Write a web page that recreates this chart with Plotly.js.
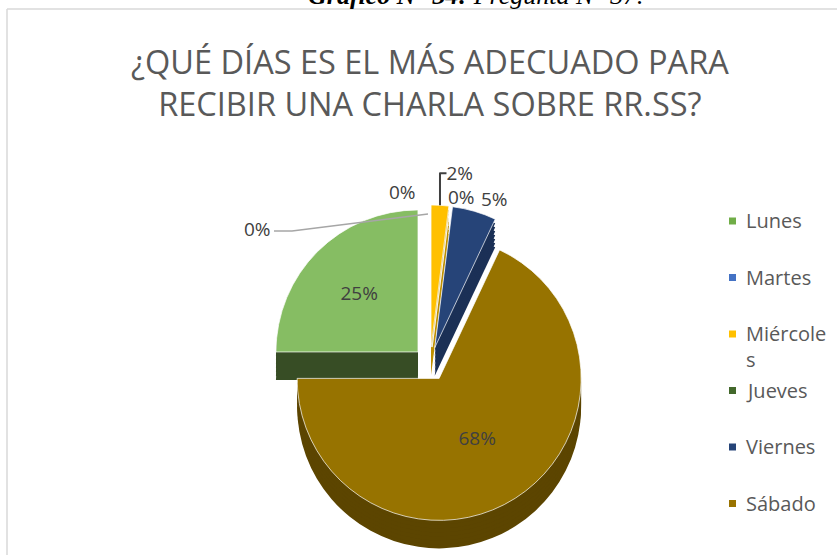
<!DOCTYPE html>
<html>
<head>
<meta charset="utf-8">
<script src="https://cdn.plot.ly/plotly-3.0.1.min.js"></script>
<style>html,body{margin:0;padding:0;background:#fff;}#chart{width:838px;height:555px;}</style>
</head>
<body>
<div id="chart"></div>
<script>
// ---- data ----
const categories = ["Lunes", "Martes", "Miércoles", "Jueves", "Viernes", "Sábado"];
const legendLabels = ["Lunes", "Martes", "Miércole<br>s", "Jueves", "Viernes", "Sábado"];
const percentages = [25, 0, 2, 0, 5, 68];
const zeroLabels = ["0%", "0%", "0%"];

// ---- styles ----
const topColors = ["#86BD63", "#4472C4", "#FFC000", "#43682B", "#264478", "#977300"];
const sideColors = ["#374D25", "#2F5597", "#BF9000", "#2B4619", "#1B3056", "#5C4500"];
const legendColors = ["#70AD47", "#4472C4", "#FFC000", "#43682B", "#264478", "#997300"];
const W = 838, H = 555;
const pullAmt = 0.12, R = 142;
const cx = 430, cy = 364, size = 2 * R * (1 + pullAmt);
const depth = 28, step = 4;

function domainFor(offsetPx) {
  return {
    x: [(cx - size / 2) / W, (cx + size / 2) / W],
    y: [1 - (cy + size / 2 + offsetPx) / H, 1 - (cy - size / 2 + offsetPx) / H]
  };
}

const traces = [];
for (let off = depth; off >= step; off -= step) {
  traces.push({
    type: "pie", values: percentages, labels: categories, sort: false,
    direction: "clockwise", rotation: -90, pull: pullAmt,
    domain: domainFor(off), marker: {colors: sideColors, line: {width: 0}},
    textinfo: "none", hoverinfo: "skip", showlegend: false
  });
}
traces.push({
  type: "pie", values: percentages, labels: categories, sort: false,
  direction: "clockwise", rotation: -90, pull: pullAmt,
  domain: domainFor(0),
  marker: {colors: topColors, line: {color: "rgba(255,255,255,0.7)", width: 1}},
  texttemplate: "%{percent:.0%}",
  textposition: percentages.map((v, i) => v === 0 ? "none" : (v < 10 ? "outside" : "inside")),
  insidetextorientation: "horizontal",
  textfont: {family: "Open Sans", size: 19, color: "#404040"},
  showlegend: false, hoverinfo: "label+percent"
});

const annotations = [];
const shapes = [];
// chart frame (top and left edges)
shapes.push({type: "line", xref: "paper", yref: "paper", x0: 7 / W, x1: 837 / W, y0: 1 - 9 / H, y1: 1 - 9 / H, line: {color: "#D9D9D9", width: 1.5}});
shapes.push({type: "line", xref: "paper", yref: "paper", x0: 7 / W, x1: 7 / W, y0: 0, y1: 1 - 9 / H, line: {color: "#D9D9D9", width: 1.5}});

// clipped caption above the chart frame
annotations.push({
  text: "<b><i>Gráfico N° 34:</i></b><i> Pregunta N° 37:</i>",
  xref: "paper", yref: "paper", x: 306 / W, y: 1 - 12 / H, xanchor: "left", yanchor: "bottom",
  showarrow: false, font: {family: "Liberation Serif", size: 26, color: "#000"}
});

// legend built from categories
const legY0 = 219, legDY = 56.5;
categories.forEach((c, i) => {
  const yc = legY0 + i * legDY;
  shapes.push({type: "rect", xref: "paper", yref: "paper",
    x0: 729 / W, x1: 736 / W, y0: 1 - (yc + 5.5) / H, y1: 1 - (yc - 1.5) / H,
    fillcolor: legendColors[i], line: {width: 0}});
  annotations.push({text: legendLabels[i], xref: "paper", yref: "paper",
    x: 744 / W, y: 1 - (yc - 14) / H, xanchor: "left", yanchor: "top", align: "left",
    showarrow: false, font: {family: "Open Sans", size: 20, color: "#595959"}});
});

// zero-value labels
const zeroPos = [[402, 192], [257, 229], [461, 197]];
zeroLabels.forEach((t, i) => {
  annotations.push({text: t, xref: "paper", yref: "paper", x: zeroPos[i][0] / W, y: 1 - zeroPos[i][1] / H,
    xanchor: "center", yanchor: "middle", showarrow: false,
    font: {family: "Open Sans", size: 19, color: "#404040"}});
});
// leader line for the left zero label
shapes.push({type: "path", xref: "paper", yref: "paper",
  path: `M ${274 / W} ${1 - 231 / H} L ${292 / W} ${1 - 231 / H} L ${428 / W} ${1 - 214 / H}`,
  line: {color: "#A6A6A6", width: 1.3}});

const layout = {
  width: W, height: H,
  margin: {l: 0, r: 0, t: 0, b: 0},
  paper_bgcolor: "#fff",
  font: {family: "Open Sans", color: "#595959"},
  title: {
    text: "¿QUÉ DÍAS ES EL MÁS ADECUADO PARA<br>RECIBIR UNA CHARLA SOBRE RR.SS?",
    font: {family: "Open Sans", size: 32.5, color: "#595959"},
    x: 0.513, xanchor: "center", y: 1 - 74 / H, yanchor: "middle", yref: "container"
  },
  showlegend: false,
  shapes: shapes,
  annotations: annotations
};

Plotly.newPlot("chart", traces, layout, {displayModeBar: false, staticPlot: true});
</script>
</body>
</html>
